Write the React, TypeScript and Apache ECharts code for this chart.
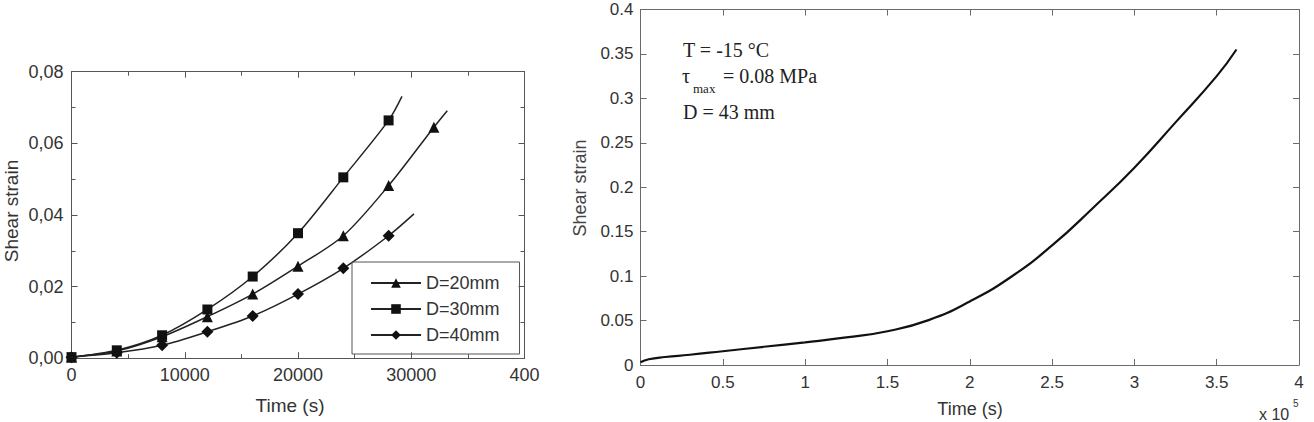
import React, { useEffect, useRef } from 'react';
import * as echarts from 'echarts';

// ---------- data ----------
const leftTimes = [0, 4000, 8000, 12000, 16000, 20000, 24000, 28000, 32000];
const strainD20 = [0.0003, 0.002, 0.006, 0.0116, 0.0179, 0.0257, 0.0342, 0.0482, 0.0645];
const strainD30 = [0.0003, 0.0022, 0.0064, 0.0136, 0.0228, 0.0349, 0.0505, 0.0664];
const strainD40 = [0.0003, 0.0015, 0.0036, 0.0074, 0.0118, 0.0179, 0.0251, 0.0342];
const tailD20 = [33180, 0.0691];
const tailD30 = [29180, 0.0731];
const tailD40 = [30240, 0.0403];
const legendNames = ['D=20mm', 'D=30mm', 'D=40mm'];

const rightTimes = [0, 5000, 15000, 30000, 50000, 75000, 100000, 125000, 150000, 175000, 200000,
  225000, 250000, 275000, 300000, 325000, 350000, 362000];
const rightStrain = [0.003, 0.0065, 0.009, 0.0115, 0.0155, 0.0205, 0.0255, 0.031, 0.038, 0.0505,
  0.0715, 0.099, 0.1345, 0.177, 0.222, 0.273, 0.325, 0.355];

const annotationLines = ['T = -15 °C', 'τ', 'max', '= 0.08 MPa', 'D = 43 mm'];

const SANS = 'Liberation Sans, Arial, sans-serif';
const SERIF = 'Liberation Serif, Times New Roman, serif';

function buildLeftSeries(vals: number[], tail: number[]) {
  const d: any[] = vals.map((v, i) => [leftTimes[i], v]);
  d.push({ value: tail, symbol: 'none' });
  return d;
}

export default function App() {
  const ref = useRef<HTMLDivElement>(null);
  useEffect(() => {
    if (!ref.current) return;
    const chart = echarts.init(ref.current, null, { renderer: 'svg' });

    const leftFrame = '#555';
    const rightFrame = '#6a6a6a';
    const axisBase = (color: string, len: number) => ({
      axisLine: { show: true, onZero: false, lineStyle: { color, width: 1 } },
      axisTick: { show: true, inside: true, length: len, lineStyle: { color } },
      splitLine: { show: false },
    });

    const option: any = {
      animation: false,
      backgroundColor: '#fff',
      grid: [
        { left: 71.5, top: 71.7, width: 453, height: 286.5 },
        { left: 640.5, top: 9.5, width: 658.5, height: 355.5 },
      ],
      xAxis: [
        {
          type: 'value', gridIndex: 0, position: 'bottom', min: 0, max: 40000, interval: 10000,
          ...axisBase(leftFrame, 6),
          minorTick: { show: true, splitNumber: 2, length: 4, lineStyle: { color: leftFrame } },
          axisLabel: {
            margin: 8, fontSize: 18, fontFamily: SANS, color: '#333',
            formatter: (v: number) => (v === 40000 ? '400' : String(v)),
          },
        },
        {
          type: 'value', gridIndex: 0, position: 'top', min: 0, max: 40000, interval: 10000,
          ...axisBase(leftFrame, 6),
          minorTick: { show: true, splitNumber: 2, length: 4, lineStyle: { color: leftFrame } },
          axisLabel: { show: false },
        },
        {
          type: 'value', gridIndex: 1, position: 'bottom', min: 0, max: 400000, interval: 50000,
          ...axisBase(rightFrame, 6),
          axisLabel: {
            margin: 9, fontSize: 17, fontFamily: SANS, color: '#333',
            formatter: (v: number) => String(Math.round((v / 100000) * 10) / 10),
          },
        },
        {
          type: 'value', gridIndex: 1, position: 'top', min: 0, max: 400000, interval: 50000,
          ...axisBase(rightFrame, 6),
          axisLabel: { show: false },
        },
      ],
      yAxis: [
        {
          type: 'value', gridIndex: 0, position: 'left', min: 0, max: 0.08, interval: 0.02,
          ...axisBase(leftFrame, 6),
          minorTick: { show: true, splitNumber: 2, length: 4, lineStyle: { color: leftFrame } },
          axisLabel: {
            margin: 8, fontSize: 18, fontFamily: SANS, color: '#333',
            formatter: (v: number) => v.toFixed(2).replace('.', ','),
          },
        },
        {
          type: 'value', gridIndex: 0, position: 'right', min: 0, max: 0.08, interval: 0.02,
          ...axisBase(leftFrame, 6),
          minorTick: { show: true, splitNumber: 2, length: 4, lineStyle: { color: leftFrame } },
          axisLabel: { show: false },
        },
        {
          type: 'value', gridIndex: 1, position: 'left', min: 0, max: 0.4, interval: 0.05,
          ...axisBase(rightFrame, 6),
          axisLabel: {
            margin: 7, fontSize: 17, fontFamily: SANS, color: '#333',
            formatter: (v: number) => String(Math.round(v * 100) / 100),
          },
        },
        {
          type: 'value', gridIndex: 1, position: 'right', min: 0, max: 0.4, interval: 0.05,
          ...axisBase(rightFrame, 6),
          axisLabel: { show: false },
        },
      ],
      legend: {
        left: 352, top: 262,
        orient: 'vertical',
        data: legendNames,
        itemWidth: 50, itemHeight: 12, itemGap: 8,
        padding: [12, 20, 10, 18],
        borderColor: '#555', borderWidth: 1, borderRadius: 0,
        textStyle: { fontSize: 18, fontFamily: SANS, color: '#333' },
      },
      series: [
        {
          name: legendNames[0], type: 'line', xAxisIndex: 0, yAxisIndex: 0,
          data: buildLeftSeries(strainD20, tailD20), smooth: 0.3,
          symbol: 'triangle', symbolSize: 11, itemStyle: { color: '#111' },
          lineStyle: { color: '#222', width: 1.5 },
        },
        {
          name: legendNames[1], type: 'line', xAxisIndex: 0, yAxisIndex: 0,
          data: buildLeftSeries(strainD30, tailD30), smooth: 0.3,
          symbol: 'rect', symbolSize: 10, itemStyle: { color: '#111' },
          lineStyle: { color: '#222', width: 1.5 },
        },
        {
          name: legendNames[2], type: 'line', xAxisIndex: 0, yAxisIndex: 0,
          data: buildLeftSeries(strainD40, tailD40), smooth: 0.3,
          symbol: 'diamond', symbolSize: 12, itemStyle: { color: '#111' },
          lineStyle: { color: '#222', width: 1.5 },
        },
        {
          name: 'D=43mm', type: 'line', xAxisIndex: 2, yAxisIndex: 2,
          data: rightTimes.map((t, i) => [t, rightStrain[i]]), smooth: 0.5,
          symbol: 'none', lineStyle: { color: '#111', width: 2.2 },
        },
      ],
      graphic: [
        {
          type: 'text', x: 11, y: 211, rotation: Math.PI / 2,
          style: { text: 'Shear strain', font: `19px ${SANS}`, fill: '#333', textAlign: 'center', textVerticalAlign: 'middle' },
        },
        {
          type: 'text', x: 290, y: 405,
          style: { text: 'Time (s)', font: `19px ${SANS}`, fill: '#333', textAlign: 'center', textVerticalAlign: 'middle' },
        },
        {
          type: 'text', x: 580, y: 188, rotation: Math.PI / 2,
          style: { text: 'Shear strain', font: `18px ${SANS}`, fill: '#444', textAlign: 'center', textVerticalAlign: 'middle' },
        },
        {
          type: 'text', x: 970, y: 409,
          style: { text: 'Time (s)', font: `18px ${SANS}`, fill: '#333', textAlign: 'center', textVerticalAlign: 'middle' },
        },
        {
          type: 'text', x: 1259, y: 414,
          style: { text: 'x 10', font: `16px ${SANS}`, fill: '#333', textAlign: 'left', textVerticalAlign: 'middle' },
        },
        {
          type: 'text', x: 1293, y: 403,
          style: { text: '5', font: `10px ${SANS}`, fill: '#333', textAlign: 'left', textVerticalAlign: 'middle' },
        },
        {
          type: 'text', x: 683, y: 50,
          style: { text: annotationLines[0], font: `20px ${SERIF}`, fill: '#222', textAlign: 'left', textVerticalAlign: 'middle' },
        },
        {
          type: 'text', x: 682, y: 76,
          style: { text: annotationLines[1], font: `20px ${SERIF}`, fill: '#222', textAlign: 'left', textVerticalAlign: 'middle' },
        },
        {
          type: 'text', x: 693, y: 88,
          style: { text: annotationLines[2], font: `13px ${SERIF}`, fill: '#222', textAlign: 'left', textVerticalAlign: 'middle' },
        },
        {
          type: 'text', x: 723, y: 76,
          style: { text: annotationLines[3], font: `20px ${SERIF}`, fill: '#222', textAlign: 'left', textVerticalAlign: 'middle' },
        },
        {
          type: 'text', x: 683, y: 112,
          style: { text: annotationLines[4], font: `20px ${SERIF}`, fill: '#222', textAlign: 'left', textVerticalAlign: 'middle' },
        },
      ],
    };

    chart.setOption(option);
    return () => chart.dispose();
  }, []);

  return (
    <div
      ref={ref}
      style={{ position: 'absolute', left: 0, top: 0, width: 1314, height: 422, background: '#fff' }}
    />
  );
}
